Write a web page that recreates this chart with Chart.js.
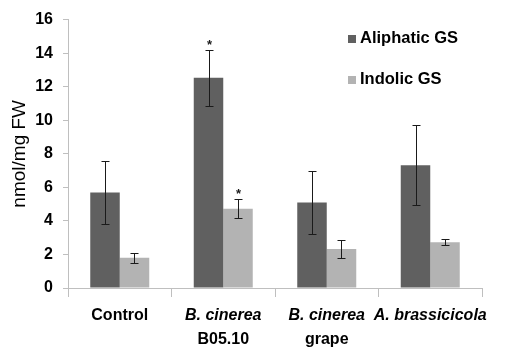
<!DOCTYPE html>
<html>
<head>
<meta charset="utf-8">
<script src="https://cdn.jsdelivr.net/npm/chart.js@4"></script>
<style>
  html, body { margin: 0; padding: 0; background: #fff; }
  #wrap { width: 508px; height: 354px; position: relative; }
</style>
</head>
<body>
<div id="wrap"><canvas id="c" width="508" height="354"></canvas></div>
<script>
// ---- data ----
const categories = ['Control', 'B. cinerea B05.10', 'B. cinerea grape', 'A. brassicicola'];
const labelLine1 = ['Control', 'B. cinerea', 'B. cinerea', 'A. brassicicola'];
const labelLine2 = ['', 'B05.10', 'grape', ''];
const line1Italic = [false, true, true, true];

const seriesNames = ['Aliphatic GS', 'Indolic GS'];
const aliphatic = [5.70, 12.53, 5.09, 7.32];
const aliphaticErr = [1.88, 1.67, 1.90, 2.40];
const aliphaticSig = [false, true, false, false];
const indolic = [1.81, 4.72, 2.32, 2.72];
const indolicErr = [0.30, 0.57, 0.56, 0.18];
const indolicSig = [false, true, false, false];

const yTicks = [0, 2, 4, 6, 8, 10, 12, 14, 16];
const yTitle = 'nmol/mg FW';

const FONT = '"Liberation Sans", Arial, sans-serif';

const errorBarPlugin = {
  id: 'errorBars',
  afterDatasetsDraw(chart) {
    const ctx = chart.ctx;
    const y = chart.scales.y;
    chart.data.datasets.forEach((ds, di) => {
      const meta = chart.getDatasetMeta(di);
      meta.data.forEach((bar, i) => {
        const v = ds.data[i], e = ds.errors[i];
        const x = Math.round(bar.x);
        const yt = Math.round(y.getPixelForValue(v + e));
        const yb = Math.round(y.getPixelForValue(v - e));
        ctx.save();
        ctx.strokeStyle = '#1a1a1a';
        ctx.lineWidth = 1;
        ctx.beginPath();
        ctx.moveTo(x + 0.5, yt);
        ctx.lineTo(x + 0.5, yb);
        ctx.moveTo(x - 3.5, yt + 0.5);
        ctx.lineTo(x + 4.5, yt + 0.5);
        ctx.moveTo(x - 3.5, yb + 0.5);
        ctx.lineTo(x + 4.5, yb + 0.5);
        ctx.stroke();
        if (ds.sig[i]) {
          ctx.fillStyle = '#1a1a1a';
          ctx.font = 'bold 13px ' + FONT;
          ctx.textAlign = 'center';
          ctx.textBaseline = 'middle';
          ctx.fillText('*', x + 0.5, yt - 5);
        }
        ctx.restore();
      });
    });
  }
};

const customLabelsPlugin = {
  id: 'customLabels',
  afterDraw(chart) {
    const ctx = chart.ctx;
    const xs = chart.scales.x;
    const area = chart.chartArea;
    ctx.save();
    ctx.fillStyle = '#000';
    ctx.textAlign = 'center';
    ctx.textBaseline = 'middle';
    categories.forEach((c, i) => {
      const x = xs.getPixelForValue(i);
      ctx.font = (line1Italic[i] ? 'italic ' : '') + 'bold 16px ' + FONT;
      ctx.fillText(labelLine1[i], x, area.bottom + 28);
      if (labelLine2[i]) {
        ctx.font = 'bold 16px ' + FONT;
        ctx.fillText(labelLine2[i], x, area.bottom + 52);
      }
    });
    // legend
    const lx = 348, ly = [38.5, 79.5];
    chart.data.datasets.forEach((ds, di) => {
      ctx.fillStyle = ds.backgroundColor;
      ctx.fillRect(lx, Math.round(ly[di] - 4), 8, 8);
      ctx.fillStyle = '#000';
      ctx.font = 'bold 16.5px ' + FONT;
      ctx.textAlign = 'left';
      ctx.fillText(ds.label, lx + 12, ly[di]);
    });
    ctx.restore();
  }
};

new Chart(document.getElementById('c'), {
  type: 'bar',
  data: {
    labels: categories,
    datasets: [
      { label: seriesNames[0], data: aliphatic, errors: aliphaticErr, sig: aliphaticSig,
        backgroundColor: '#606060', borderWidth: 0 },
      { label: seriesNames[1], data: indolic, errors: indolicErr, sig: indolicSig,
        backgroundColor: '#b3b3b3', borderWidth: 0 }
    ]
  },
  options: {
    responsive: false,
    animation: false,
    layout: { padding: { top: 17, right: 26, left: 0, bottom: 0 } },
    datasets: { bar: { barPercentage: 1.0, categoryPercentage: 0.57 } },
    plugins: { legend: { display: false }, tooltip: { enabled: false } },
    scales: {
      x: {
        ticks: { display: false },
        grid: { display: true, drawOnChartArea: false, drawTicks: true, tickLength: 9,
                color: '#bfbfbf', offset: true },
        border: { display: true, color: '#bfbfbf', width: 1 },
        afterFit(scale) { scale.height = 66; }
      },
      y: {
        min: 0, max: 16,
        afterBuildTicks(scale) { scale.ticks = yTicks.map(v => ({ value: v })); },
        ticks: { color: '#000', font: { family: FONT, size: 16, weight: 'bold' }, padding: 10 },
        grid: { display: true, drawOnChartArea: false, drawTicks: true, tickLength: 5, color: '#bfbfbf' },
        border: { display: true, color: '#bfbfbf', width: 1 },
        title: { display: true, text: yTitle, color: '#000',
                 font: { family: FONT, size: 19, weight: 'normal' }, padding: { top: 8, bottom: 0 } },
        afterFit(scale) { scale.width = 68; }
      }
    }
  },
  plugins: [errorBarPlugin, customLabelsPlugin]
});
</script>
</body>
</html>
